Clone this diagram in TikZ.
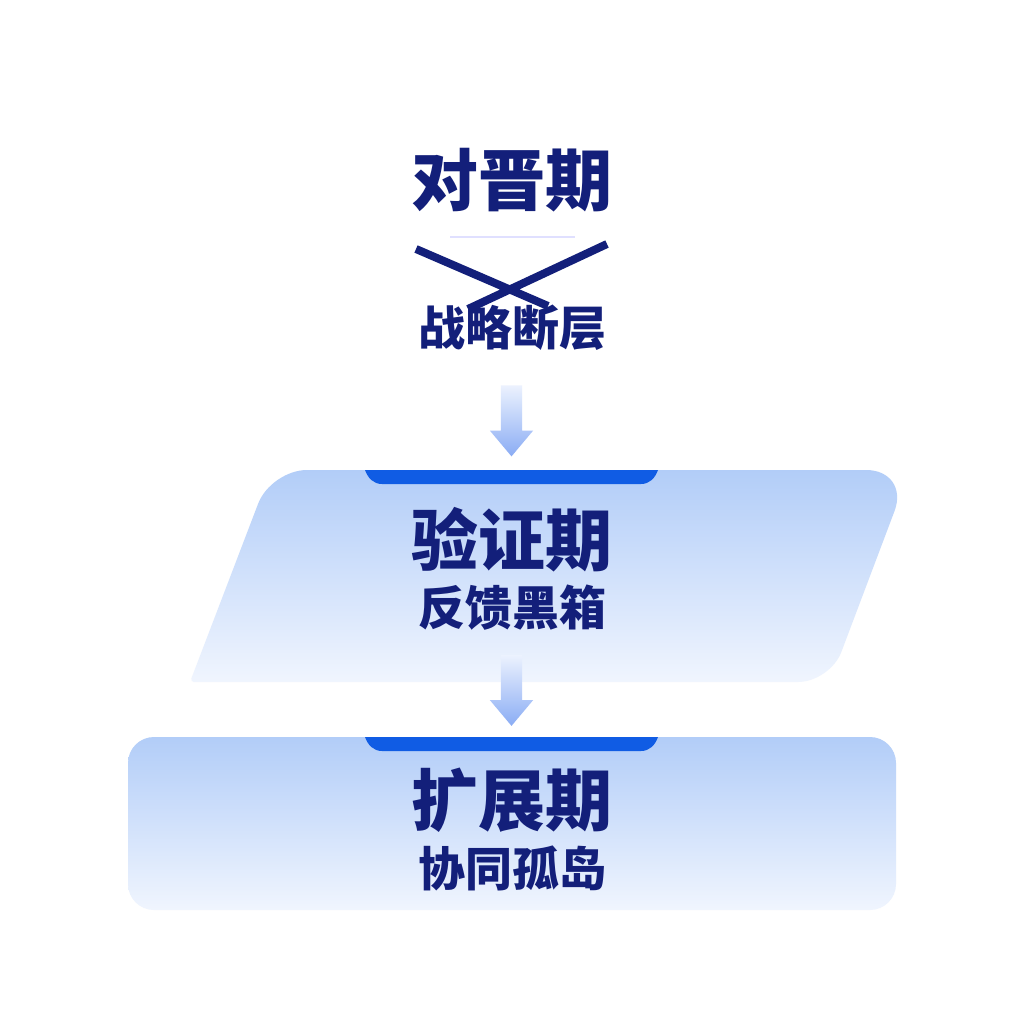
\documentclass[tikz,border=0pt]{standalone}
\usepackage{fontspec}
\setmainfont{Noto Sans CJK SC}
\usetikzlibrary{positioning, calc, shapes.arrows}
\definecolor{navy}{RGB}{19,31,122}
\definecolor{tabblue}{RGB}{16,92,228}
\definecolor{paletop}{RGB}{178,205,248}
\definecolor{palebot}{RGB}{240,245,254}
\definecolor{arrowtop}{RGB}{236,242,254}
\definecolor{arrowbot}{RGB}{138,172,244}
\tikzset{
  phases/.style={
	x=1pt, y=-1pt, % one unit is one pixel of the picture
	node distance=68pt, % distance between a phase title and its subtitle
	every node/.style={text=navy, inner sep=0pt},
  },
  phasetitle/.style={font=\fontsize{67}{72}\selectfont\bfseries}, % big phase name
  phasesub/.style={font=\fontsize{47}{52}\selectfont\bfseries}, % the problem below it
  stagefill/.style={top color=paletop, bottom color=palebot}, % light blue box
  tab/.style={fill=tabblue}, % dark blue tab on top of a box
  downarrow/.style={
	shape=single arrow, shape border rotate=270,
	minimum height=71pt, inner sep=10.5pt,
	single arrow head extend=11pt, single arrow tip angle=80,
	top color=arrowtop, bottom color=arrowbot, draw=none,
  },
  cross/.style={draw=navy, line width=8pt},
}

\begin{document}
\begin{tikzpicture}[phases]
	  \useasboundingbox[fill=white] (0,0) rectangle (1024,1024);

	  % first phase, crossed out
	  \node[phasetitle] (stand) at (512,180) {对晋期};
	  \node[phasesub, below of=stand] (gap) at (512,260) {战略断层};
	  \coordinate (la) at (450,237);
	  \coordinate (lb) at (575,237);
	  \draw[blue!12, line width=1.5pt] (la) -- (lb);
	  \coordinate (ca) at (416,249);
	  \coordinate (cb) at (548,306);
	  \coordinate (cc) at (607,244);
	  \coordinate (cd) at (468,309);
	  \draw[cross] (ca) -- (cb) (cc) -- (cd);

	  \node[downarrow] (arr1) at (511.5,414.5) {};

	  % second phase, slanted box
	  \shade[stagefill] (500,682) [rounded corners=4pt] -- (190,682)
		  [rounded corners=36pt] -- (271,470) [rounded corners=44pt] -- (910,470)
		  [rounded corners=32pt] -- (830,682) [rounded corners=4pt] -- cycle;
	  \fill[tab] (365,470) to[out=-70, in=180] (382,484) -- (641,484)
		  to[out=0, in=-110] (658,470) -- cycle;
	  \node[phasetitle] (verify) at (512,540) {验证期};
	  \node[phasesub, below of=verify] (blackbox) {反馈黑箱};

	  \node[downarrow] (arr2) at (511.5,684) {};

	  % third phase, plain box
	  \shade[stagefill, rounded corners=26pt] (128,737) rectangle (896,910);
	  \fill[tab] (365,737) to[out=-70, in=180] (382,751) -- (641,751)
		  to[out=0, in=-110] (658,737) -- cycle;
	  \node[phasetitle] (expand) at (512,800) {扩展期};
	  \node[phasesub, below of=expand] (islands) {协同孤岛};
\end{tikzpicture}
\end{document}
